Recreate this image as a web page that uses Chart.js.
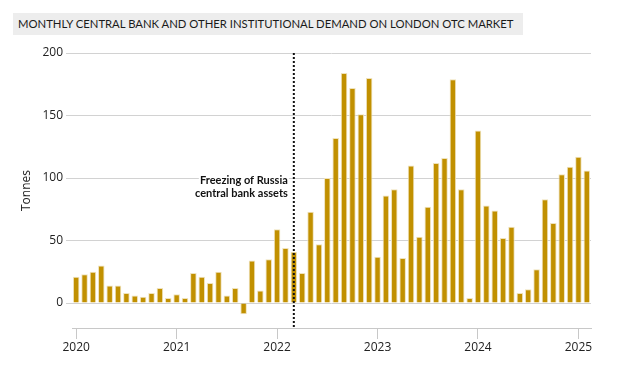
<!DOCTYPE html>
<html>
<head>
<meta charset="utf-8">
<script src="https://cdn.jsdelivr.net/npm/chart.js@4.4.1/dist/chart.umd.min.js"></script>
<style>
  body { margin: 0; background: #fff; }
  .wrap { position: relative; width: 627px; height: 375px; }
  .titolo {
    position: absolute; left: 13px; top: 13px; width: 510px; height: 22px;
    background: #ededed; color: #1a1a1a;
    font-family: Lato, sans-serif; font-size: 11.3px; line-height: 22px;
    padding-left: 5px; box-sizing: border-box; white-space: nowrap; overflow: hidden;
  }
  canvas { position: absolute; left: 0; top: 0; }
</style>
</head>
<body>
<div class="wrap">
  <canvas id="myChartBar" width="627" height="375"></canvas>
  <div class="titolo">MONTHLY CENTRAL BANK AND OTHER INSTITUTIONAL DEMAND ON LONDON OTC MARKET</div>
</div>
<script>
// anni e mesi (gen 2020 - feb 2025)
var anni = [2020, 2021, 2022, 2023, 2024, 2025];
var mesi = ['Jan', 'Feb', 'Mar', 'Apr', 'May', 'Jun', 'Jul', 'Aug', 'Sep', 'Oct', 'Nov', 'Dec'];
var mesiUltimoAnno = 2;

// tonnellate al mese
var valori2020 = [21, 23, 25, 30, 14, 14, 8, 6, 5, 8, 12, 4];
var valori2021 = [7, 4, 24, 21, 16, 25, 6, 12, -9, 34, 10, 35];
var valori2022 = [59, 44, 41, 24, 73, 47, 100, 132, 184, 172, 151, 180];
var valori2023 = [37, 86, 91, 36, 110, 53, 77, 112, 116, 179, 91, 4];
var valori2024 = [138, 78, 74, 52, 61, 8, 11, 27, 83, 64, 103, 109];
var valori2025 = [117, 106];

var tickY = [0, 50, 100, 150, 200];
var minY = -20;
var maxY = 200;

// annotazione
var meseBlocco = 'Mar 2022';
var testoBlocco = ['Freezing of Russia', 'central bank assets'];
var valoreTestoBlocco = 95;

var colore = '#c19000';

// costruisco etichette e dati
var etichette = [];
for (var i = 0; i < anni.length; i++) {
  var quanti = (i == anni.length - 1) ? mesiUltimoAnno : 12;
  for (var m = 0; m < quanti; m++) {
    etichette.push(mesi[m] + ' ' + anni[i]);
  }
}
var valori = valori2020.concat(valori2021, valori2022, valori2023, valori2024, valori2025);

// plugin per la linea tratteggiata e il testo
var pluginBlocco = {
  id: 'blocco',
  afterDatasetsDraw: function(chart) {
    var ctx = chart.ctx;
    var x = chart.scales.x.getPixelForValue(etichette.indexOf(meseBlocco));
    var area = chart.chartArea;

    ctx.save();
    ctx.strokeStyle = '#111';
    ctx.lineWidth = 2;
    ctx.setLineDash([2, 2]);
    ctx.beginPath();
    ctx.moveTo(x, area.top);
    ctx.lineTo(x, area.bottom);
    ctx.stroke();
    ctx.setLineDash([]);

    var y = chart.scales.y.getPixelForValue(valoreTestoBlocco);
    ctx.font = 'bold 11px Lato, sans-serif';
    ctx.textAlign = 'right';
    ctx.textBaseline = 'alphabetic';
    ctx.lineJoin = 'round';
    for (var k = 0; k < testoBlocco.length; k++) {
      ctx.strokeStyle = '#fff';
      ctx.lineWidth = 4;
      ctx.strokeText(testoBlocco[k], x - 6, y + k * 13);
      ctx.fillStyle = '#111';
      ctx.fillText(testoBlocco[k], x - 6, y + k * 13);
    }
    ctx.restore();
  }
};

var ctx = document.getElementById('myChartBar');
var chart = new Chart(ctx, {
  type: 'bar',
  data: {
    labels: etichette,
    datasets: [{
      data: valori,
      backgroundColor: colore,
      borderColor: '#efe2bb',
      borderWidth: 1,
      barPercentage: 0.78,
      categoryPercentage: 1
    }]
  },
  options: {
    responsive: false,
    animation: false,
    layout: { padding: { top: 53, right: 36, left: 0, bottom: 0 } },
    plugins: { legend: { display: false }, tooltip: { enabled: false } },
    scales: {
      x: {
        offset: true,
        grid: {
          offset: false,
          drawOnChartArea: false,
          tickLength: 11,
          color: '#c8c8c8'
        },
        border: { color: '#c8c8c8' },
        ticks: {
          autoSkip: false,
          maxRotation: 0,
          padding: 1,
          color: '#222',
          font: { family: 'Open Sans', size: 12 },
          callback: function(val, index) {
            var lab = etichette[index];
            if (lab.indexOf('Jan') == 0) {
              return lab.split(' ')[1];
            }
            return null;
          }
        },
        afterFit: function(scale) { scale.height = 47; }
      },
      y: {
        min: minY,
        max: maxY,
        afterBuildTicks: function(scale) {
          scale.ticks = tickY.map(function(v) { return { value: v }; });
        },
        grid: { color: '#d2d2d2', tickLength: 6 },
        border: { display: false },
        ticks: {
          padding: 3,
          color: '#222',
          font: { family: 'Open Sans', size: 12 }
        },
        title: {
          display: true,
          text: 'Tonnes',
          color: '#222',
          font: { family: 'Open Sans', size: 12 },
          padding: { top: 19, bottom: 0 }
        },
        afterFit: function(scale) { scale.width = 72; }
      }
    }
  },
  plugins: [pluginBlocco]
});
</script>
</body>
</html>
